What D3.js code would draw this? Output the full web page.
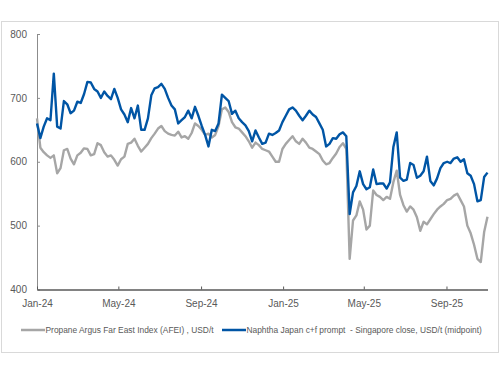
<!DOCTYPE html>
<html>
<head>
<meta charset="utf-8">
<script src="https://cdn.jsdelivr.net/npm/d3@7"></script>
<style>
  body { margin: 0; background: #fff; }
  svg { display: block; font-family: "Liberation Sans", Arial, sans-serif; }
</style>
</head>
<body>
<div id="chart"></div>
<script>
// one reading every 5 days from 1 Jan 2024
const startDate = "2024-01-01";
const stepDays = 5;

const naphtha = [
  660, 637, 655, 668, 665, 738, 655, 652, 695, 690,
  676, 680, 694, 692, 706, 725, 724, 714, 710, 700,
  710, 703, 698, 714, 700, 682, 674, 662, 684, 668,
  688, 650, 650, 668, 704, 715, 717, 722, 714, 700,
  688, 682, 660, 665, 670, 680, 668, 686, 672, 656,
  642, 624, 650, 648, 660, 705, 700, 695, 675, 680,
  668, 662, 657, 648, 632, 649, 638, 628, 630, 644,
  642, 645, 649, 662, 672, 682, 685, 680, 672, 665,
  672, 680, 674, 670, 660, 650, 624, 628, 637, 636,
  643, 646, 640, 518, 552, 562, 585, 565, 557, 560,
  588, 565, 566, 566, 558, 568, 623, 646, 575, 570,
  572, 598, 595, 575, 578, 585, 608, 570, 563, 574,
  590, 598, 600, 598, 605, 607, 600, 604, 582, 578,
  565, 538, 540, 576, 583
];

const propane = [
  668, 622, 615, 610, 606, 610, 582, 590, 618, 620,
  605, 596, 610, 614, 621, 620, 610, 612, 629, 626,
  615, 608, 610, 603, 594, 604, 608, 628, 630, 636,
  625, 616, 622, 628, 637, 644, 652, 656, 648, 644,
  642, 641, 647, 638, 640, 636, 645, 660, 656, 650,
  642, 644, 638, 642, 656, 682, 685, 678, 662, 654,
  652, 646, 640, 632, 622, 630, 626, 620, 618, 616,
  608, 600, 600, 620, 628, 634, 640, 632, 628, 636,
  630, 622, 620, 616, 612, 602, 596, 598, 606, 613,
  623, 629, 620, 448, 508, 516, 538, 525, 494, 500,
  555, 548, 545, 540, 545, 542, 568, 586, 548, 532,
  522, 530, 525, 513, 492, 506, 502, 510, 518, 525,
  530, 534, 540, 542, 547, 550, 540, 530, 500, 488,
  470, 448, 443, 490, 514
];

const seriesNames = [
  "Propane Argus Far East Index (AFEI) , USD/t",
  "Naphtha Japan c+f prompt  - Singapore close, USD/t (midpoint)"
];
const seriesColors = ["#a6a6a6", "#0055a5"];

const yTicks = [400, 500, 600, 700, 800];
const xTicks = ["2024-01-01", "2024-05-01", "2024-09-01", "2025-01-01", "2025-05-01", "2025-09-01"];
const xEnd = "2025-11-01";

const parse = d3.timeParse("%Y-%m-%d");
const t0 = parse(startDate);
const dates = naphtha.map((_, i) => d3.timeDay.offset(t0, i * stepDays));

const W = 500, H = 375;
const svg = d3.select("#chart").append("svg")
  .attr("width", W)
  .attr("height", H);

// outer chart frame
svg.append("rect")
  .attr("x", 1.5).attr("y", 21.5)
  .attr("width", 497).attr("height", 331)
  .attr("fill", "#fff")
  .attr("stroke", "#d9d9d9");

const x = d3.scaleTime()
  .domain([t0, parse(xEnd)])
  .range([37, 487.5]);

const y = d3.scaleLinear()
  .domain([400, 800])
  .range([289.5, 34]);

// y axis
const yAxis = svg.append("g")
  .attr("transform", "translate(37,0)")
  .call(d3.axisLeft(y).tickValues(yTicks).tickSize(-3).tickSizeOuter(0).tickPadding(10));
yAxis.select(".domain").attr("stroke", "#8c8c8c");
yAxis.selectAll(".tick line").attr("stroke", "#8c8c8c");
yAxis.selectAll("text")
  .attr("fill", "#595959")
  .style("font-size", "10px");

// x axis
const xAxis = svg.append("g")
  .attr("transform", "translate(0,289.5)")
  .call(d3.axisBottom(x)
    .tickValues(xTicks.map(parse))
    .tickFormat(d3.timeFormat("%b-%y"))
    .tickSize(-3).tickSizeOuter(0).tickPadding(10));
xAxis.select(".domain").attr("stroke", "#595959").attr("stroke-width", 1.5);
xAxis.selectAll(".tick line").attr("stroke", "#595959");
xAxis.selectAll("text")
  .attr("fill", "#595959")
  .style("font-size", "10px");

const line = d3.line()
  .x((d, i) => x(dates[i]))
  .y(d => y(d));

[propane, naphtha].forEach((vals, i) => {
  svg.append("path")
    .datum(vals)
    .attr("fill", "none")
    .attr("stroke", seriesColors[i])
    .attr("stroke-width", 2.4)
    .attr("stroke-linejoin", "round")
    .attr("d", line);
});

// legend
const legendX = [21, 222];
const legend = svg.append("g").attr("transform", "translate(0,330)");
seriesNames.forEach((name, i) => {
  legend.append("line")
    .attr("x1", legendX[i]).attr("x2", legendX[i] + 24)
    .attr("y1", 0).attr("y2", 0)
    .attr("stroke", seriesColors[i])
    .attr("stroke-width", 2.5);
  legend.append("text")
    .attr("x", legendX[i] + 24.5)
    .attr("y", 0)
    .attr("dy", "0.35em")
    .attr("fill", "#595959")
    .style("font-size", "8.4px")
    .style("white-space", "pre")
    .text(name);
});
</script>
</body>
</html>
